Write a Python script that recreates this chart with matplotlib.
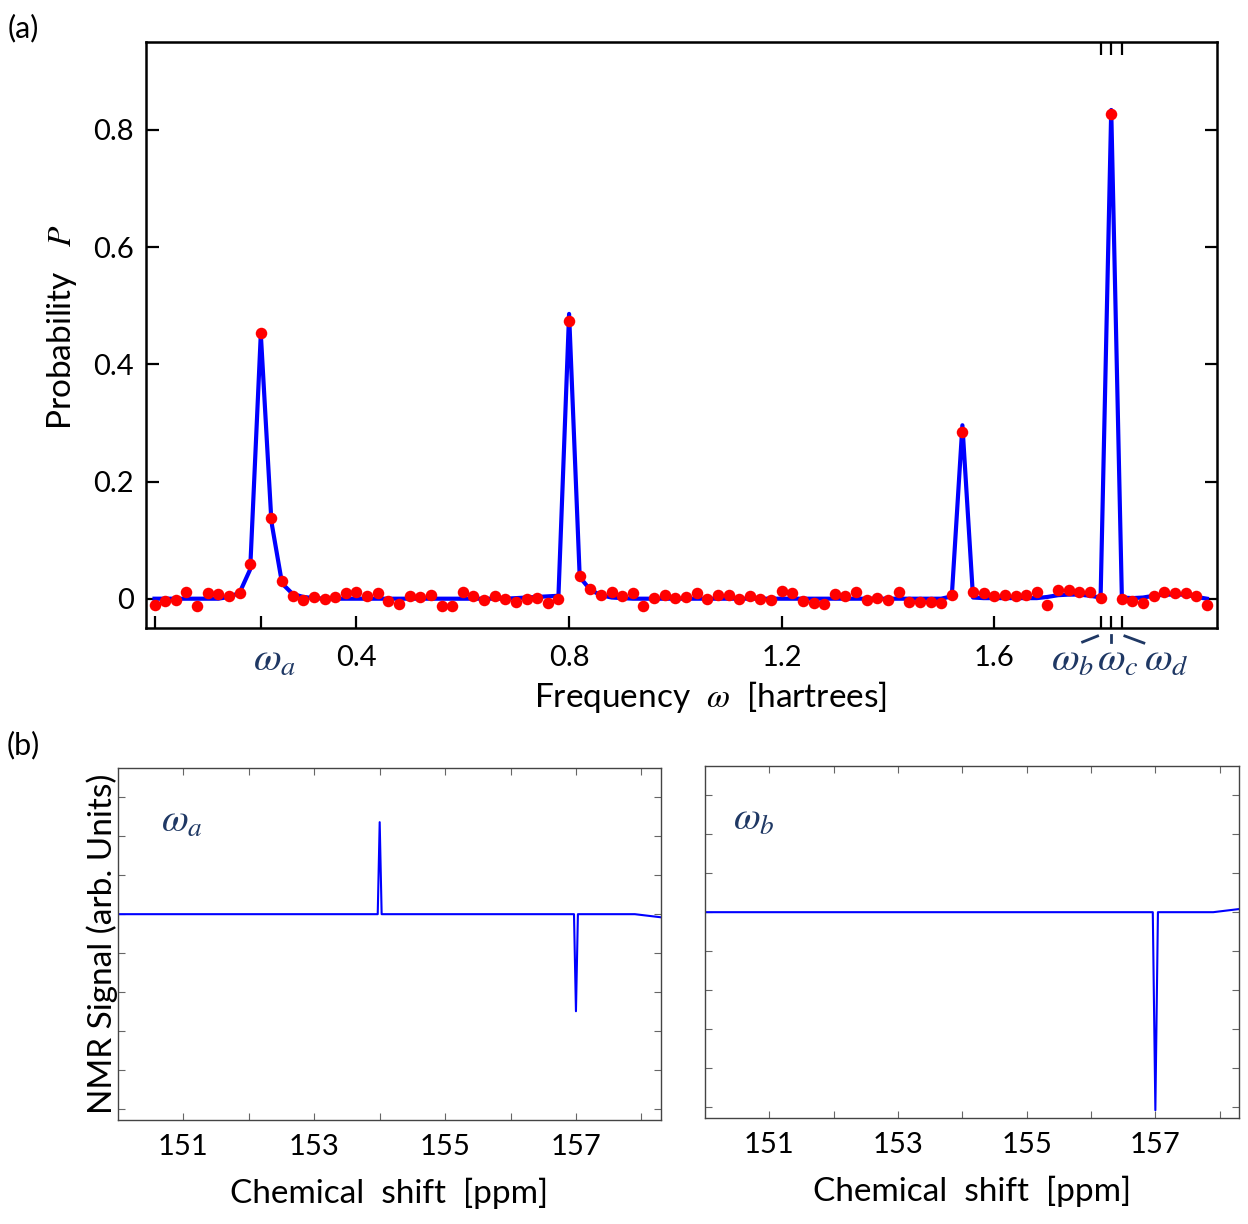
import numpy as np
import matplotlib
matplotlib.use('Agg')
import matplotlib.pyplot as plt

plt.rcParams['font.family'] = ['Lato', 'DejaVu Sans']
plt.rcParams['mathtext.fontset'] = 'stix'

# Measured probabilities (red dots), sampled every 0.02 hartree
freq = np.round(np.arange(1, 101) * 0.02, 2)
measured = [
    -0.010, -0.004, -0.002, 0.012, -0.012, 0.009, 0.008, 0.004, 0.009, 0.060,
    0.453, 0.137, 0.030, 0.004, -0.002, 0.003, -0.001, 0.003, 0.010, 0.012,
    0.004, 0.009, -0.004, -0.009, 0.005, 0.003, 0.007, -0.012, -0.012, 0.011,
    0.004, -0.003, 0.004, 0.000, -0.005, -0.001, 0.002, -0.007, 0.000, 0.474,
    0.039, 0.016, 0.007, 0.012, 0.004, 0.009, -0.012, 0.001, 0.007, 0.001,
    0.003, 0.009, -0.001, 0.007, 0.007, 0.000, 0.004, 0.000, -0.003, 0.013,
    0.010, -0.004, -0.007, -0.009, 0.008, 0.004, 0.011, -0.002, 0.002, -0.003,
    0.012, -0.006, -0.005, -0.006, -0.008, 0.006, 0.284, 0.012, 0.010, 0.005,
    0.006, 0.004, 0.006, 0.011, -0.010, 0.015, 0.014, 0.012, 0.012, 0.001,
    0.827, 0.000, -0.004, -0.007, 0.005, 0.011, 0.010, 0.009, 0.005, -0.010,
]
# Theory curve (blue line) on the same grid
theory = [
    0.000, 0.000, 0.000, 0.000, 0.000, 0.000, 0.000, 0.003, 0.010, 0.050,
    0.452, 0.131, 0.026, 0.008, 0.003, 0.001, 0.000, 0.000, 0.000, 0.000,
    0.000, 0.000, 0.000, 0.000, 0.000, 0.000, 0.000, 0.000, 0.000, 0.000,
    0.000, 0.000, 0.000, 0.000, 0.001, 0.002, 0.003, 0.004, 0.005, 0.486,
    0.037, 0.015, 0.006, 0.002, 0.001, 0.000, 0.000, 0.000, 0.000, 0.000,
    0.000, 0.000, 0.000, 0.000, 0.000, 0.000, 0.000, 0.000, 0.000, 0.000,
    0.000, 0.000, 0.000, 0.000, 0.000, 0.000, 0.000, 0.000, 0.000, 0.000,
    0.000, 0.000, 0.000, 0.000, 0.000, 0.004, 0.296, 0.002, 0.001, 0.001,
    0.001, 0.001, 0.001, 0.001, 0.003, 0.006, 0.007, 0.007, 0.005, 0.002,
    0.834, 0.002, 0.001, 0.002, 0.005, 0.007, 0.007, 0.007, 0.003, 0.000,
]

omega_a = 0.22
omega_bcd = [1.80, 1.82, 1.84]

# NMR spectra (arb. units)
ppm_a = [150.0, 153.97, 154.0, 154.03, 156.97, 157.0, 157.03, 157.9, 158.3]
sig_a = [0.0, 0.0, 2.36, 0.0, 0.0, -2.49, 0.0, 0.0, -0.08]
ppm_b = [150.0, 156.96, 157.0, 157.04, 157.9, 158.3]
sig_b = [0.0, 0.0, -5.08, 0.0, 0.0, 0.08]

navy = '#1f3864'
W, H = 1248, 1224
fig = plt.figure(figsize=(W / 100, H / 100), dpi=100)

# ---- (a) probability spectrum ----
l, r, t, b = 146, 1217, 42, 628
ax = fig.add_axes([l / W, 1 - b / H, (r - l) / W, (b - t) / H])
ax.plot(freq, theory, color='blue', lw=3.0, zorder=2)
ax.plot(freq, measured, 'o', color='red', ms=8.3, mec='none', zorder=3)
ax.set_xlim(0.004, 2.019)
ax.set_ylim(-0.050, 0.950)

ax.set_xticks([0.02, omega_a, 0.4, 0.8, 1.2, 1.6] + omega_bcd)
ax.set_xticklabels(['', '', '0.4', '0.8', '1.2', '1.6', '', '', ''])
ax.set_yticks([0, 0.2, 0.4, 0.6, 0.8])
ax.set_yticklabels(['0', '0.2', '0.4', '0.6', '0.8'])
ax.tick_params(axis='both', direction='in', length=9, width=1.6, labelsize=21)
ax.tick_params(axis='x', pad=12)
ax.tick_params(axis='y', right=True, pad=9)
for s in ax.spines.values():
    s.set_linewidth(1.8)

top = ax.secondary_xaxis('top')
top.set_xticks(omega_bcd)
top.set_xticklabels(['', '', ''])
top.tick_params(direction='in', length=9, width=1.6)

ax.set_xlabel(r'Frequency  $\omega$  [hartrees]', fontsize=24)
ax.xaxis.set_label_coords(0.5266, -0.087)
ax.set_ylabel(r'Probability   $P$', fontsize=24)
ax.yaxis.set_label_coords(-0.063, 0.514)

# omega labels under the axis
px_x = (2.019 - 0.004) / (r - l)
px_y = 1.0 / (b - t)
xt = ax.get_xaxis_transform()
for w, lab, dx in [(omega_a, r'$\omega_a$', 14), (1.80, r'$\omega_b$', -28),
                   (1.82, r'$\omega_c$', 7), (1.84, r'$\omega_d$', 44)]:
    ax.text(w + dx * px_x, -32 * px_y, lab, transform=xt, ha='center',
            va='center', fontsize=29, color=navy)
for w, (x0, y0, x1, y1) in zip(omega_bcd, [(-3, -8, -18, -14), (0, -7, 0, -14),
                                           (3, -8, 22, -15)]):
    ax.plot([w + x0 * px_x, w + x1 * px_x], [y0 * px_y, y1 * px_y],
            color=navy, lw=2, transform=xt, clip_on=False)

fig.text(23 / W, 1 - 28 / H, '(a)', fontsize=22, ha='center', va='center')
fig.text(23 / W, 1 - 745 / H, '(b)', fontsize=22, ha='center', va='center')

# ---- (b) NMR spectra ----
panels = [((118, 661, 768, 1120), ppm_a, sig_a, r'$\omega_a$', 0.080, True),
          ((705, 1239, 766, 1118), ppm_b, sig_b, r'$\omega_b$', 0.052, False)]
for (l2, r2, t2, b2), ppm, sig, lab, lx, first in panels:
    bx = fig.add_axes([l2 / W, 1 - b2 / H, (r2 - l2) / W, (b2 - t2) / H])
    bx.plot(ppm, sig, color='blue', lw=1.5)
    bx.set_xlim(150.0, 158.3)
    bx.set_ylim(-5.28, 3.75)
    bx.set_xticks(range(151, 159))
    bx.set_xticklabels(['151', '', '153', '', '155', '', '157', ''])
    bx.set_yticks(range(-5, 4))
    bx.set_yticklabels([])
    bx.tick_params(direction='in', top=True, right=True, length=5, width=0.8,
                   color='#666666', labelsize=21, pad=10)
    for s in bx.spines.values():
        s.set_linewidth(1.0)
        s.set_color('#444444')
    bx.set_xlabel('Chemical  shift  [ppm]', fontsize=24, labelpad=13)
    bx.text(lx, 0.85, lab, transform=bx.transAxes, fontsize=28, color=navy,
            ha='left', va='center')
    if first:
        bx.set_ylabel('NMR Signal (arb. Units)', fontsize=24, labelpad=-10)

fig.savefig('out.png', dpi=100)
